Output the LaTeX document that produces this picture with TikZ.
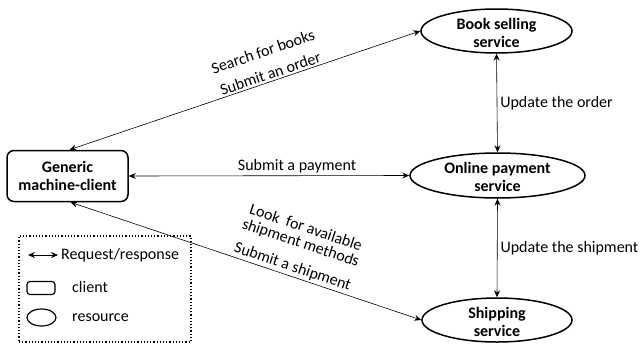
\documentclass[tikz,border=0pt]{standalone}
\usepackage{fontspec}
\setmainfont{Carlito}
\usetikzlibrary{shapes.geometric,arrows.meta}
\begin{document}
\begin{tikzpicture}[x=1pt,y=-1pt,
  every node/.style={font=\fontsize{16}{19}\selectfont},
  svc/.style={draw, ellipse, line width=1.5pt, inner sep=0pt},
  svctext/.style={align=center, font=\fontsize{16}{18}\selectfont\bfseries},
  conn/.style={line width=0.6pt, {Stealth[length=7pt,width=6pt,inset=2.5pt]}-{Stealth[length=7pt,width=6pt,inset=2.5pt]}},
  lbl/.style={inner sep=2pt}
]
\useasboundingbox (0,0) rectangle (644,343);

% client
\node[draw, line width=1.5pt, rounded corners=7pt, minimum width=121pt, minimum height=51pt, align=center,
      font=\fontsize{16}{17.5}\selectfont\bfseries] (client) at (67.5,176) {Generic\\machine-client};

% services
\node[svc, minimum width=151pt, minimum height=44pt] (book) at (496.5,31) {};
\node[svctext] (booktxt) at (496.5,32.5) {Book selling\\service};
\node[svc, minimum width=175pt, minimum height=45pt] (pay) at (497.5,175.5) {};
\node[svctext] (paytxt) at (497.5,177) {Online payment\\service};
\node[svc, minimum width=150pt, minimum height=44pt] (ship) at (497,320) {};
\node[svctext] (shiptxt) at (497,321.5) {Shipping\\service};

% connectors
\draw[conn] ([xshift=2pt]client.north) -- (book.west)
  node[pos=0.58, sloped, above, align=center, lbl] (l1) {Search for books\\[4pt]Submit an order};
\draw[conn] (client.east) -- (pay.west)
  node[pos=0.6, above, lbl] (l2) {Submit a payment};
\draw[conn] ([xshift=3pt]client.south) -- (ship.west)
  node[pos=0.625, sloped, above, align=center, lbl] (l3) {Look~~for available\\[-3pt]shipment methods\\[6pt]Submit a shipment};
\draw[conn] (book.south) -- (pay.north)
  node[midway, right, inner sep=3pt] (l4) {Update the order};
\draw[conn] (pay.south) -- (ship.north)
  node[midway, right, inner sep=3pt] (l5) {Update the shipment};

% legend
\node[draw, dotted, line width=1.2pt, minimum width=172pt, minimum height=106pt] (legend) at (105,289) {};
\coordinate (la) at (28,255);
\coordinate (lb) at (58,255);
\draw[conn] (la) -- (lb);
\node[anchor=west, inner sep=0pt] (lreq) at (61,255) {Request/response};
\node[draw, line width=1.2pt, rounded corners=3pt, minimum width=28pt, minimum height=13pt, inner sep=0pt] (lrect) at (41,288) {};
\node[anchor=west, inner sep=0pt] (lclient) at (72,287) {client};
\node[draw, ellipse, line width=1.2pt, minimum width=29pt, minimum height=17pt, inner sep=0pt] (lell) at (41.5,317.5) {};
\node[anchor=west, inner sep=0pt] (lres) at (72,318) {resource};
\end{tikzpicture}
\end{document}
